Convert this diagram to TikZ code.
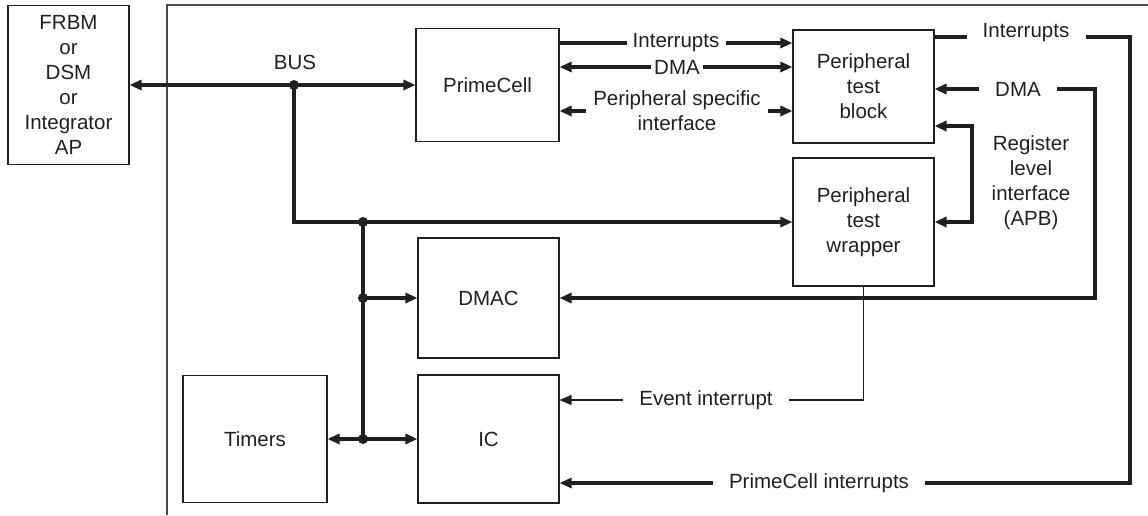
\documentclass[tikz,border=0pt]{standalone}
\usepackage{fontspec}
\setmainfont{Liberation Sans}
\usetikzlibrary{arrows.meta}
\definecolor{ink}{RGB}{35,31,32}
\begin{document}
\begin{tikzpicture}[x=1pt,y=-1pt,color=ink,font=\fontsize{20.5}{25}\selectfont,
    >={Triangle[length=12pt,width=10pt]},
    box/.style={draw,line width=1.1pt,align=center,inner sep=0pt},
    bus/.style={line width=3.5pt},
    wire/.style={line width=1.3pt},
    lbl/.style={inner sep=3pt,align=center},
    gap/.style={lbl,inner xsep=16pt}]
  \useasboundingbox (0,0) rectangle (1148,515);
  \draw[black!70,line width=1.5pt] (167,515) -- (167,5) -- (1148,5);
  \node[box,minimum width=121pt,minimum height=159pt] (frbm) at (68.5,85) {FRBM\\or\\DSM\\or\\Integrator\\AP};
  \node[box,minimum width=143pt,minimum height=113pt] (pcell) at (487.5,85) {PrimeCell};
  \node[box,minimum width=141pt,minimum height=113pt] (ptb) at (863.5,86.5) {Peripheral\\test\\block};
  \node[box,minimum width=141pt,minimum height=128pt] (ptw) at (863.5,222) {Peripheral\\test\\wrapper};
  \node[box,minimum width=141pt,minimum height=120pt] (dmac) at (488.5,298) {DMAC};
  \node[box,minimum width=144pt,minimum height=127pt] (timers) at (255,439) {Timers};
  \node[box,minimum width=141pt,minimum height=128pt] (ic) at (488.5,439) {IC};
  \node[lbl] (lbus) at (295,62) {BUS};
  \node[lbl,inner xsep=6pt] (lint) at (676,43) {Interrupts};
  \node[lbl] (ldma) at (677,67) {DMA};
  \node[lbl,inner xsep=7pt] (lpsi) at (677,111) {Peripheral specific\\interface};
  \node[gap] (lirq) at (1026,33) {Interrupts};
  \node[gap] (ldmb) at (1018,89) {DMA};
  \node[lbl] (lreg) at (1031,183) {Register\\level\\interface\\(APB)};
  \node[gap] (levt) at (706,400) {Event interrupt};
  \node[gap] (lpci) at (819,483) {PrimeCell interrupts};
  \coordinate (j1) at (294,85);
  \coordinate (j2) at (363,222);
  \coordinate (j3) at (363,298);
  \coordinate (j4) at (363,439);
  \coordinate (irqtop) at (1130,37);
  \coordinate (irqbot) at (1130,483);
  \coordinate (dmatop) at (1095,89);
  \coordinate (regtop) at (972,126);
  \draw[bus,<->] (frbm.east) -- (pcell.west);
  \draw[bus,->] (j1) |- (ptw.west);
  \draw[bus] (j2) -- (j4);
  \draw[bus,->] (j3) -- (dmac.west);
  \draw[bus,->] (j4) -- (timers.east);
  \draw[bus,->] (j4) -- (ic.west);
  \foreach \j in {j1,j2,j3,j4}
    \fill (\j) circle (5pt);
  \draw[bus] (pcell.east |- lint) -- (lint.west);
  \draw[bus,->] (lint.east) -- (ptb.west |- lint);
  \draw[bus,<-] (pcell.east |- ldma) -- (ldma.west);
  \draw[bus,->] (ldma.east) -- (ptb.west |- ldma);
  \draw[bus,<-] (pcell.east |- lpsi) -- (lpsi.west);
  \draw[bus,->] (lpsi.east) -- (ptb.west |- lpsi);
  \draw[bus] (ptb.east |- irqtop) -- (lirq.west |- irqtop);
  \draw[bus] (lirq.east |- irqtop) -- (irqtop) -- (irqbot) -- (lpci.east);
  \draw[bus,->] (lpci.west) -- (ic.east |- lpci);
  \draw[bus,<-] (ptb.east |- dmatop) -- (ldmb.west);
  \draw[bus,->] (ldmb.east) -- (dmatop) -- (dmatop |- dmac.east) -- (dmac.east);
  \draw[bus,<->] (ptb.east |- regtop) -- (regtop) |- (ptw.east);
  \draw[wire] (ptw.south) |- (levt.east);
  \draw[wire,->] (levt.west) -- (ic.east |- levt);
\end{tikzpicture}
\end{document}
